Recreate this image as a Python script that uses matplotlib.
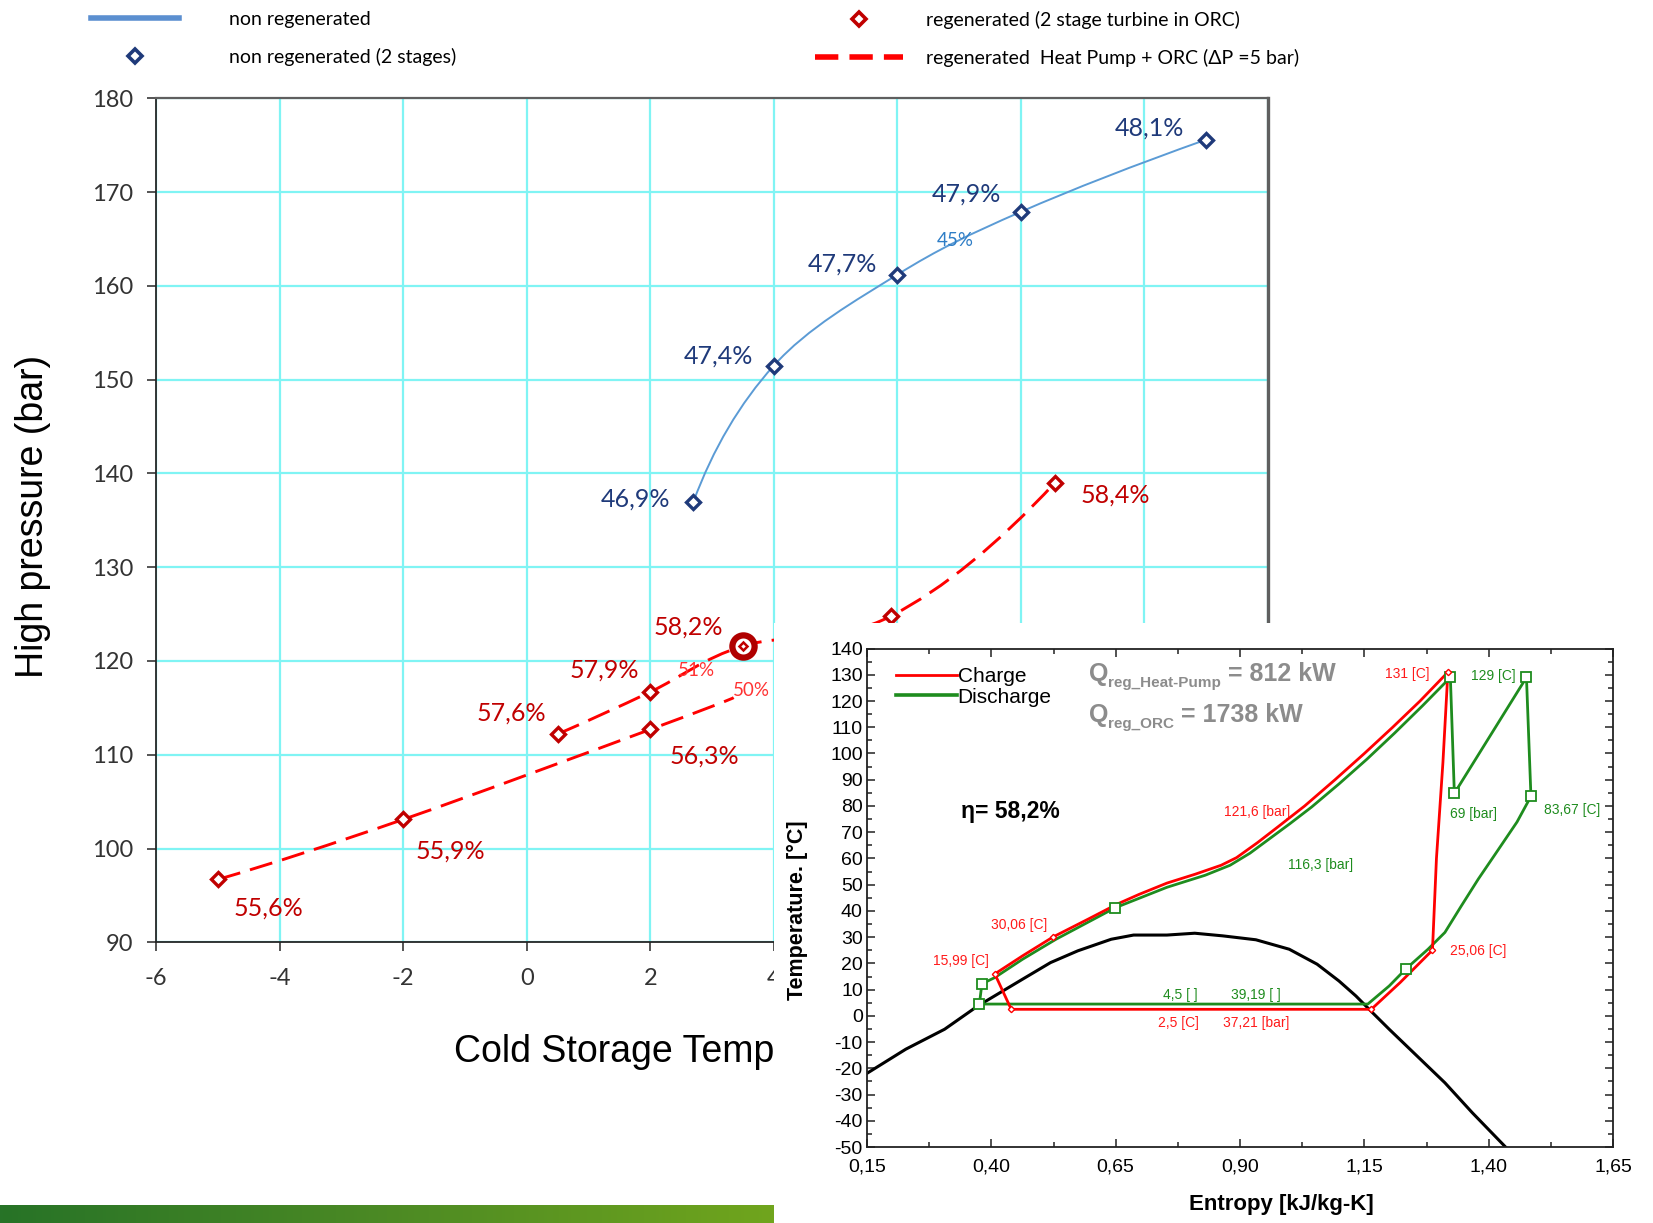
import numpy as np
import matplotlib.pyplot as plt
from matplotlib.lines import Line2D
from matplotlib.path import Path
from matplotlib.patches import PathPatch
from matplotlib.ticker import MultipleLocator, FuncFormatter
from matplotlib.colors import LinearSegmentedColormap
from matplotlib.transforms import Bbox

plt.rcParams['font.family'] = ['Lato', 'DejaVu Sans']
plt.rcParams['axes.unicode_minus'] = False

# ---- high pressure vs cold storage temperature ----
nonreg_temp = [2.7, 4.0, 6.0, 8.0, 11.0]
nonreg_pres = [137.0, 151.5, 161.2, 167.9, 175.6]
nonreg_eff = ['46,9%', '47,4%', '47,7%', '47,9%', '48,1%']

hp_low_temp = [-5.0, -2.0, 2.0, 3.35]
hp_low_pres = [96.7, 103.1, 112.7, 116.1]
hp_low_eff = ['55,6%', '55,9%', '56,3%']

hp_high_temp = [0.5, 2.0, 3.5, 5.9, 8.55]
hp_high_pres = [112.2, 116.7, 121.6, 124.8, 139.0]
hp_high_eff = ['57,6%', '57,9%', '58,2%', None, '58,4%']

# iso-efficiency notes
iso_text = ['45%', '51%', '50%']
iso_temp = [6.93, 2.74, 3.63]
iso_pres = [164.8, 119.0, 116.8]

# ---- T-s diagram of the chosen cycle ----
dome_s = [0.15, 0.228, 0.306, 0.373, 0.418, 0.463, 0.519, 0.574, 0.641, 0.686, 0.753,
          0.809, 0.865, 0.932, 0.999, 1.055, 1.099, 1.133, 1.166, 1.200, 1.256, 1.312,
          1.367, 1.434]
dome_T = [-21.9, -12.7, -5.1, 3.8, 8.9, 14.0, 20.3, 24.8, 29.2, 30.8, 30.8,
          31.5, 30.5, 29.0, 25.4, 19.7, 13.3, 7.6, 1.3, -5.1, -15.3, -25.5,
          -36.9, -50.0]

charge_s = [0.407, 0.440, 1.164, 1.222, 1.287, 1.295, 1.308, 1.318, 1.262, 1.207, 1.150,
            1.091, 1.030, 0.976, 0.935, 0.893, 0.862, 0.810, 0.753, 0.697, 0.653, 0.597,
            0.524, 0.463, 0.407]
charge_T = [15.99, 2.5, 2.5, 12.7, 25.06, 60.0, 96.5, 131.0, 120.0, 110.0, 100.0,
            90.0, 80.0, 72.0, 66.0, 60.3, 57.4, 54.0, 50.6, 46.3, 42.6, 37.1,
            30.06, 22.9, 15.99]
charge_mark_s = [1.318, 0.407, 0.524, 0.440, 1.164, 1.287]
charge_mark_T = [131.0, 15.99, 30.06, 2.5, 2.5, 25.06]

discharge_s = [0.376, 0.381, 0.407, 0.463, 0.530, 0.649, 0.753, 0.830, 0.880, 0.920, 0.960,
               1.000, 1.044, 1.099, 1.155, 1.211, 1.267, 1.323, 1.331, 1.476, 1.485, 1.457,
               1.412, 1.379, 1.345, 1.312, 1.278, 1.233, 1.200, 1.157, 0.376]
discharge_T = [4.5, 12.2, 14.6, 21.6, 29.2, 41.2, 49.0, 53.6, 57.4, 62.0, 67.6,
               73.2, 79.6, 88.4, 97.8, 107.8, 118.2, 129.0, 84.8, 129.0, 83.67, 73.9,
               61.3, 52.1, 41.9, 31.8, 25.4, 17.8, 11.4, 4.5, 4.5]
discharge_mark_s = [0.376, 0.381, 0.649, 1.323, 1.331, 1.476, 1.485, 1.233]
discharge_mark_T = [4.5, 12.2, 41.2, 129.0, 84.8, 129.0, 83.67, 17.8]

red_notes = ['131 [C]', '121,6 [bar]', '30,06 [C]', '15,99 [C]', '25,06 [C]', '2,5 [C]', '37,21 [bar]']
red_note_s = [1.236, 0.935, 0.456, 0.338, 1.378, 0.777, 0.932]
red_note_T = [130.4, 77.6, 34.6, 21.0, 24.6, -2.7, -2.7]
green_notes = ['129 [C]', '69 [bar]', '83,67 [C]', '116,3 [bar]', '4,5 [ ]', '39,19 [ ]']
green_note_s = [1.409, 1.369, 1.568, 1.061, 0.780, 0.932]
green_note_T = [129.6, 77.1, 78.3, 57.4, 8.1, 8.1]

NAVY = '#1f3a7a'
DKRED = '#c00000'
RED = '#ff1a1a'
GREEN = '#1e8c1e'


def smooth_path(xs, ys):
    # cubic bezier through the points, quadratic-style ends
    p = np.column_stack([xs, ys]).astype(float)
    n = len(p)
    m = np.zeros_like(p)
    for i in range(1, n - 1):
        m[i] = (p[i + 1] - p[i - 1]) / 2
    m[0] = 2 * (p[1] - p[0]) - m[1]
    m[-1] = 2 * (p[-1] - p[-2]) - m[-2]
    verts = [p[0]]
    codes = [Path.MOVETO]
    for i in range(n - 1):
        verts += [p[i] + m[i] / 3, p[i + 1] - m[i + 1] / 3, p[i + 1]]
        codes += [Path.CURVE4] * 3
    return Path(verts, codes)


fig = plt.figure(figsize=(16.53, 12.23), dpi=100)

ax = fig.add_axes([0.0944, 0.2295, 0.6727, 0.6901], zorder=1)
ax.set_xlim(-6, 12)
ax.set_ylim(90, 180)
ax.set_xticks(range(-6, 13, 2), [str(v) if v <= 4 else '' for v in range(-6, 13, 2)])
ax.set_yticks(range(90, 181, 10))
ax.grid(color='#80f4f4', lw=1.6)
ax.set_axisbelow(True)
for side in ['left', 'bottom']:
    ax.spines[side].set_color('#262626')
    ax.spines[side].set_linewidth(1.3)
ax.spines['top'].set_color('#5f5f5f')
ax.spines['top'].set_linewidth(1.6)
ax.spines['right'].set_color('#5f5f5f')
ax.spines['right'].set_linewidth(2.4)
ax.tick_params(direction='out', length=6.3, width=1.1, color='#262626',
               labelsize=17, labelcolor='#333333', pad=10)
ax.tick_params(axis='x', pad=12.5)

ax.set_ylabel('High pressure (bar)', fontsize=27, family='Liberation Sans')
ax.yaxis.label.set_va('center')
ax.yaxis.set_label_coords(-0.111, 0.505)
ax.set_xlabel('Cold Storage Temperature (°C)', fontsize=27, family='Liberation Sans')
ax.xaxis.label.set_va('center')
ax.xaxis.set_label_coords(0.5, -0.130)
# the T-s panel sits over the right part of the axis title
ax.xaxis.label.set_clip_box(Bbox([[0, 0], [774, 1223]]))
ax.xaxis.label.set_clip_on(True)

# non regenerated
ax.add_patch(PathPatch(smooth_path(nonreg_temp, nonreg_pres), fill=False,
                       edgecolor='#5b9bd5', lw=1.4, zorder=3))
ax.plot(nonreg_temp, nonreg_pres, ls='none', marker='D', ms=7, mfc='white',
        mec=NAVY, mew=2.4, zorder=4)
nonreg_off = [(-42, 2), (-40, 7), (-39.5, 7.6), (-39.5, 12.9), (-41, 8.3)]
for x, y, s, off in zip(nonreg_temp, nonreg_pres, nonreg_eff, nonreg_off):
    ax.annotate(s, (x, y), xytext=off, textcoords='offset points', ha='center',
                va='center', fontsize=18, color=NAVY)

# regenerated heat pump + ORC
for xs, ys in [(hp_low_temp, hp_low_pres), (hp_high_temp, hp_high_pres)]:
    patch = PathPatch(smooth_path(xs, ys), fill=False, edgecolor='#ff0000', lw=2.1, zorder=3)
    patch.set_linestyle((0, (8, 3.5)))
    ax.add_patch(patch)
ax.plot(hp_low_temp[:3], hp_low_pres[:3], ls='none', marker='D', ms=7, mfc='white',
        mec=DKRED, mew=2.4, zorder=4)
sel = [0, 1, 3, 4]
ax.plot([hp_high_temp[i] for i in sel], [hp_high_pres[i] for i in sel], ls='none',
        marker='D', ms=7, mfc='white', mec=DKRED, mew=2.4, zorder=4)
ax.plot(hp_high_temp[2], hp_high_pres[2], marker='o', ms=16, mfc='white', mec='#b00000',
        mew=4.5, zorder=5)
ax.plot(hp_high_temp[2], hp_high_pres[2], marker='D', ms=4.5, mfc='white', mec=DKRED,
        mew=1.8, zorder=6)

low_off = [(36.4, -20.5), (34.2, -22.8), (38.7, -19)]
for x, y, s, off in zip(hp_low_temp, hp_low_pres, hp_low_eff, low_off):
    ax.annotate(s, (x, y), xytext=off, textcoords='offset points', ha='center',
                va='center', fontsize=18, color=DKRED)
high_off = [(-33.4, 15.2), (-33.4, 16), (-39.5, 13.7), None, (43.3, -9.1)]
for x, y, s, off in zip(hp_high_temp, hp_high_pres, hp_high_eff, high_off):
    if s is None:
        continue
    ax.annotate(s, (x, y), xytext=off, textcoords='offset points', ha='center',
                va='center', fontsize=18, color=DKRED)

iso_colors = ['#2e7dc6', '#ff3333', '#ff3333']
for s, x, y, c in zip(iso_text, iso_temp, iso_pres, iso_colors):
    ax.text(x, y, s, ha='center', va='center', fontsize=13.5, color=c)

# legend above the chart
h_line = Line2D([], [], color='#5b8fd0', lw=4)
h_navy = Line2D([], [], ls='none', marker='D', ms=7.5, mfc='white', mec=NAVY, mew=2.6)
h_red = Line2D([], [], ls='none', marker='D', ms=7.5, mfc='white', mec=DKRED, mew=2.6)
h_dash = Line2D([], [], color='#ff0000', lw=4, dashes=(4.2, 2))
leg_kw = dict(loc='upper left', frameon=False, fontsize=14, borderpad=0, borderaxespad=0,
              handlelength=4.5, labelspacing=1.0)
fig.legend([h_line, h_navy], ['non regenerated', 'non regenerated (2 stages)'],
           bbox_to_anchor=(91 / 1653, 1 - 11 / 1223), handletextpad=2.6, **leg_kw)
fig.legend([h_red, h_dash], ['regenerated (2 stage turbine in ORC)',
                             'regenerated  Heat Pump + ORC (ΔP =5 bar)'],
           bbox_to_anchor=(815 / 1653, 1 - 11 / 1223), handletextpad=1.2, **leg_kw)

# green strip along the bottom
strip = fig.add_axes([0, 0, 774 / 1653, 18 / 1223], zorder=2)
cmap = LinearSegmentedColormap.from_list('strip', ['#277327', '#4c8a24', '#70a51d'])
strip.imshow(np.linspace(0, 1, 256)[None, :], aspect='auto', cmap=cmap)
strip.axis('off')

# white panel for the T-s diagram
panel = fig.add_axes([774 / 1653, 0, 1 - 774 / 1653, 600 / 1223], zorder=3)
panel.set_facecolor('white')
panel.set_xticks([])
panel.set_yticks([])
for sp in panel.spines.values():
    sp.set_visible(False)

ts = fig.add_axes([867 / 1653, 0.0621, 746 / 1653, 498.5 / 1223], zorder=4)
ts.set_xlim(0.15, 1.65)
ts.set_ylim(-50, 140)
ts.set_xticks(np.arange(0.15, 1.66, 0.25))
ts.set_xticks(np.arange(0.275, 1.65, 0.25), minor=True)
ts.yaxis.set_major_locator(MultipleLocator(10))
ts.yaxis.set_minor_locator(MultipleLocator(5))
ts.xaxis.set_major_formatter(FuncFormatter(lambda v, _: f'{v:.2f}'.replace('.', ',')))
ts.tick_params(which='both', direction='in', top=True, right=True, width=1.1, color='#222222')
ts.tick_params(which='major', length=6)
ts.tick_params(which='minor', length=3.5)
ts.tick_params(axis='x', pad=8)
ts.tick_params(axis='y', pad=3)
for lbl in ts.get_xticklabels() + ts.get_yticklabels():
    lbl.set_fontfamily('Liberation Sans')
    lbl.set_fontsize(14)
for sp in ts.spines.values():
    sp.set_linewidth(1.3)
    sp.set_color('#222222')

ts.set_xlabel('Entropy [kJ/kg-K]', fontsize=16, fontweight='bold', family='Liberation Sans')
ts.xaxis.label.set_va('center')
ts.xaxis.set_label_coords(0.555, -0.115)
ts.set_ylabel('Temperature. [°C]', fontsize=15.5, fontweight='bold', family='Liberation Sans')
ts.yaxis.label.set_va('center')
ts.yaxis.set_label_coords(-0.093, 0.476)

ts.plot(dome_s, dome_T, color='black', lw=2.2, zorder=2)
ts.plot(discharge_s, discharge_T, color=GREEN, lw=2.0, zorder=3)
ts.plot(charge_s, charge_T, color='#ff0000', lw=2.0, zorder=4)
ts.plot(discharge_mark_s, discharge_mark_T, ls='none', marker='s', ms=6.5, mfc='white',
        mec=GREEN, mew=1.3, zorder=5)
ts.plot(charge_mark_s, charge_mark_T, ls='none', marker='D', ms=3.2, mfc='white',
        mec='#ff0000', mew=1.0, zorder=6)

for s, x, y in zip(red_notes, red_note_s, red_note_T):
    ts.text(x, y, s, ha='center', va='center', fontsize=10, color=RED,
            family='Liberation Sans')
for s, x, y in zip(green_notes, green_note_s, green_note_T):
    ts.text(x, y, s, ha='center', va='center', fontsize=10, color=GREEN,
            family='Liberation Sans')

ts.text(0.439, 77.9, 'η= 58,2%', ha='center', va='center', fontsize=16.5,
        fontweight='bold', family='Liberation Sans')

qkw = dict(color='#8c8c8c', fontweight='bold', family='Liberation Sans')
for y, sub, val in [(127.6, 'reg_Heat-Pump', ' = 812 kW'), (112.0, 'reg_ORC', ' = 1738 kW')]:
    tq = ts.text(0.596, y, 'Q', va='baseline', ha='left', fontsize=18, **qkw)
    tsub = ts.annotate(sub, xy=(1, 0.12), xycoords=tq, va='center', ha='left',
                       fontsize=11, **qkw)
    ts.annotate(val, xy=(1, 0), xycoords=(tsub, tq), va='bottom', ha='left',
                fontsize=18, **qkw)

ts.legend([Line2D([], [], color='#ff0000', lw=2), Line2D([], [], color=GREEN, lw=2.6)],
          ['Charge', 'Discharge'], loc='upper left', bbox_to_anchor=(0.039, 0.962),
          frameon=False, handlelength=2.9, handletextpad=0.05, labelspacing=0.05,
          borderpad=0, borderaxespad=0, prop={'family': 'Liberation Sans', 'size': 15})

fig.savefig('out.png', dpi=100)
